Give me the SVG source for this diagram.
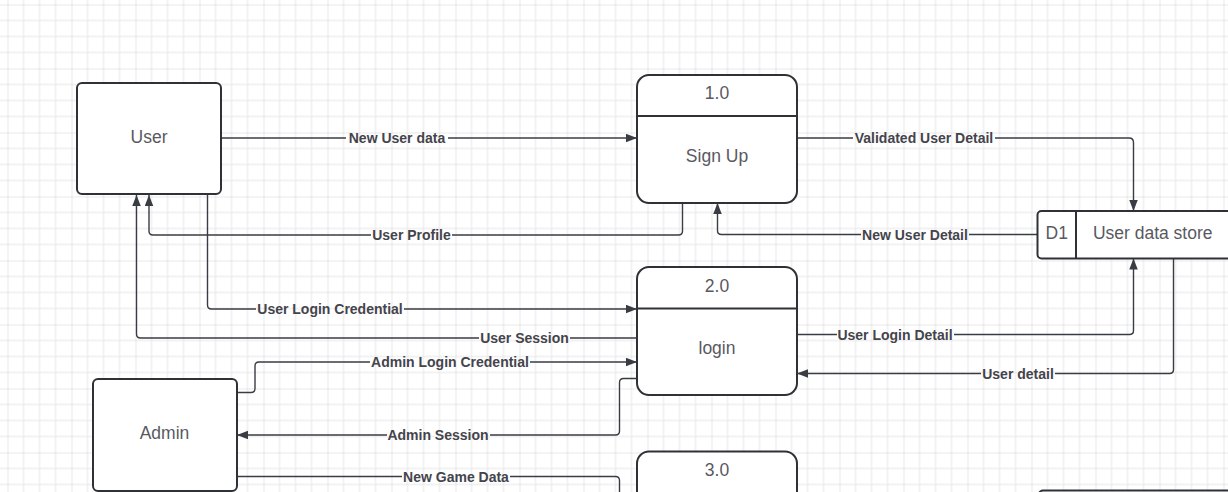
<svg xmlns="http://www.w3.org/2000/svg" width="1228" height="492" viewBox="0 0 1228 492">
<style>
.node{fill:#ffffff;stroke:#2f3136;stroke-width:2}
.div{stroke:#2f3136;stroke-width:2;fill:none}
.nt{font-family:"Liberation Sans",Arial,sans-serif;font-size:17.5px;fill:#595961;text-anchor:middle}
.conn{fill:none;stroke:#3a3c44;stroke-width:1.4;stroke-linejoin:round}
.lbl{font-family:"Liberation Sans",Arial,sans-serif;font-size:14px;font-weight:bold;fill:#44444c;text-anchor:middle}
</style>
<defs>
<pattern id="grid" patternUnits="userSpaceOnUse" x="7.5" y="4.5" width="64" height="64">
<path d="M16,0V64M32,0V64M48,0V64M0,16H64M0,32H64M0,48H64" stroke="#e5e5e5" stroke-width="1" fill="none"/>
<path d="M0,0V64M0,0H64" stroke="#d2d2d2" stroke-width="1" fill="none"/>
</pattern>
<marker id="arr" markerUnits="userSpaceOnUse" markerWidth="12" markerHeight="9" refX="11" refY="4.25" orient="auto">
<path d="M0,0L11,4.25L0,8.5z" fill="#3a3c44"/>
</marker>
<mask id="gaps" maskUnits="userSpaceOnUse" x="0" y="0" width="1228" height="492">
<rect x="0" y="0" width="1228" height="492" fill="#fff"/>
<rect x="346" y="130" width="102" height="16" fill="#000"/>
<rect x="853" y="130" width="142" height="16" fill="#000"/>
<rect x="861" y="226" width="108" height="16" fill="#000"/>
<rect x="371" y="227" width="81" height="16" fill="#000"/>
<rect x="256" y="301" width="148" height="16" fill="#000"/>
<rect x="479" y="330" width="91" height="16" fill="#000"/>
<rect x="370" y="354" width="160" height="16" fill="#000"/>
<rect x="837" y="326" width="117" height="16" fill="#000"/>
<rect x="981" y="365" width="74" height="16" fill="#000"/>
<rect x="387" y="427" width="103" height="16" fill="#000"/>
<rect x="402" y="469" width="108" height="16" fill="#000"/>
</mask>
</defs>
<rect x="0" y="0" width="1228" height="492" fill="#ffffff"/>
<rect x="0" y="0" width="1228" height="492" fill="url(#grid)"/>

<g id="connectors">
<g mask="url(#gaps)">
<path class="conn" d="M221,138H637" marker-end="url(#arr)"/>
<path class="conn" d="M797,138H1129Q1133.5,138 1133.5,142.5V211" marker-end="url(#arr)"/>
<path class="conn" d="M1037,234.5H721.5Q717.5,234.5 717.5,230.5V203" marker-end="url(#arr)"/>
<path class="conn" d="M682.5,203V231Q682.5,235 678.5,235H153Q149,235 149,231V195" marker-end="url(#arr)"/>
<path class="conn" d="M207.5,195V305Q207.5,309 211.5,309H637" marker-end="url(#arr)"/>
<path class="conn" d="M637,338H140.5Q136.5,338 136.5,334V195" marker-end="url(#arr)"/>
<path class="conn" d="M237,392.5H251Q255,392.5 255,388.5V366Q255,362 259,362H637" marker-end="url(#arr)"/>
<path class="conn" d="M637,378.5H623.5Q619.5,378.5 619.5,382.5V431Q619.5,435 615.5,435H237" marker-end="url(#arr)"/>
<path class="conn" d="M237,476.5H615.5Q619.5,476.5 619.5,480.5V500"/>
<path class="conn" d="M797,334.5H1129.5Q1133.5,334.5 1133.5,330.5V258.5" marker-end="url(#arr)"/>
<path class="conn" d="M1173.5,258.5V369.5Q1173.5,373.5 1169.5,373.5H797" marker-end="url(#arr)"/>
</g>
<text class="lbl" x="397" y="143">New User data</text>
<text class="lbl" x="924" y="143">Validated User Detail</text>
<text class="lbl" x="915" y="239.5">New User Detail</text>
<text class="lbl" x="411.5" y="240">User Profile</text>
<text class="lbl" x="330" y="314">User Login Credential</text>
<text class="lbl" x="524.5" y="343">User Session</text>
<text class="lbl" x="450" y="367">Admin Login Credential</text>
<text class="lbl" x="895" y="339.5">User Login Detail</text>
<text class="lbl" x="1018" y="378.5">User detail</text>
<text class="lbl" x="438" y="440">Admin Session</text>
<text class="lbl" x="456" y="481.5">New Game Data</text>
</g>

<g id="user">
<rect class="node" x="77" y="83" width="144" height="111" rx="5"/>
<text class="nt" x="149" y="142.7">User</text>
</g>
<g id="admin">
<rect class="node" x="93" y="379" width="144" height="112" rx="5"/>
<text class="nt" x="164.5" y="439.3">Admin</text>
</g>
<g id="p1">
<rect class="node" x="637" y="75" width="160" height="128" rx="12"/>
<line class="div" x1="637" y1="116" x2="797" y2="116"/>
<text class="nt" x="717" y="99.3">1.0</text>
<text class="nt" x="717" y="162">Sign Up</text>
</g>
<g id="p2">
<rect class="node" x="637" y="267" width="160" height="128" rx="12"/>
<line class="div" x1="637" y1="308.5" x2="797" y2="308.5"/>
<text class="nt" x="717" y="292.3">2.0</text>
<text class="nt" x="717" y="354">login</text>
</g>
<g id="p3">
<rect class="node" x="637" y="451.5" width="160" height="128" rx="12"/>
<text class="nt" x="717" y="476">3.0</text>
</g>
<g id="d1">
<rect class="node" x="1037.5" y="211" width="200" height="47.5" rx="4"/>
<line class="div" x1="1076" y1="211" x2="1076" y2="258.5"/>
<text class="nt" x="1056.7" y="239">D1</text>
<text class="nt" x="1152.7" y="239">User data store</text>
</g>
<g id="d2">
<rect class="node" x="1039" y="490.5" width="200" height="47.5" rx="4"/>
</g>
</svg>
